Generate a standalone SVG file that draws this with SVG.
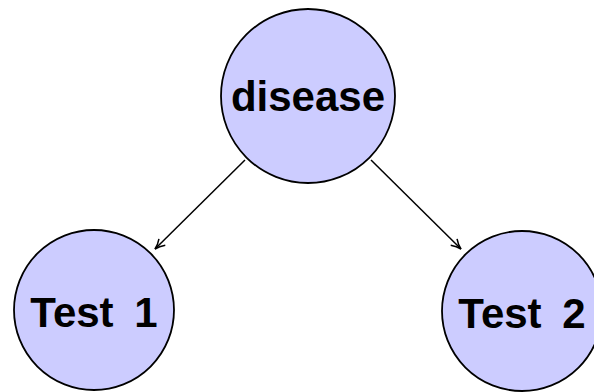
<svg xmlns="http://www.w3.org/2000/svg" width="594" height="392" viewBox="0 0 594 392">
<style>
.node circle{fill:#ccccff;stroke:#000;stroke-width:1.8}
.node text{font-family:"Liberation Sans","DejaVu Sans",sans-serif;font-weight:bold;font-size:42px;text-anchor:middle;fill:#000}
.edge{stroke:#000;stroke-width:1.5;fill:none;marker-end:url(#arr)}
</style>
<defs>
<marker id="arr" viewBox="0 0 12 12" refX="11" refY="6" markerWidth="12" markerHeight="12" markerUnits="userSpaceOnUse" orient="auto">
<path d="M1,1.5 Q6,5 11,6 Q6,7 1,10.5" fill="none" stroke="#000" stroke-width="1.5"/>
</marker>
</defs>
<g id="edges">
<line class="edge" x1="245" y1="160" x2="155" y2="249"/>
<line class="edge" x1="371" y1="160" x2="461" y2="249"/>
</g>
<g id="disease" class="node">
<circle cx="308" cy="96" r="87"/>
<text x="308" y="111">disease</text>
</g>
<g id="test1" class="node">
<circle cx="94" cy="310" r="80"/>
<text x="94" y="327" word-spacing="9">Test 1</text>
</g>
<g id="test2" class="node">
<circle cx="522" cy="311" r="80"/>
<text x="522" y="328" word-spacing="9">Test 2</text>
</g>
</svg>
